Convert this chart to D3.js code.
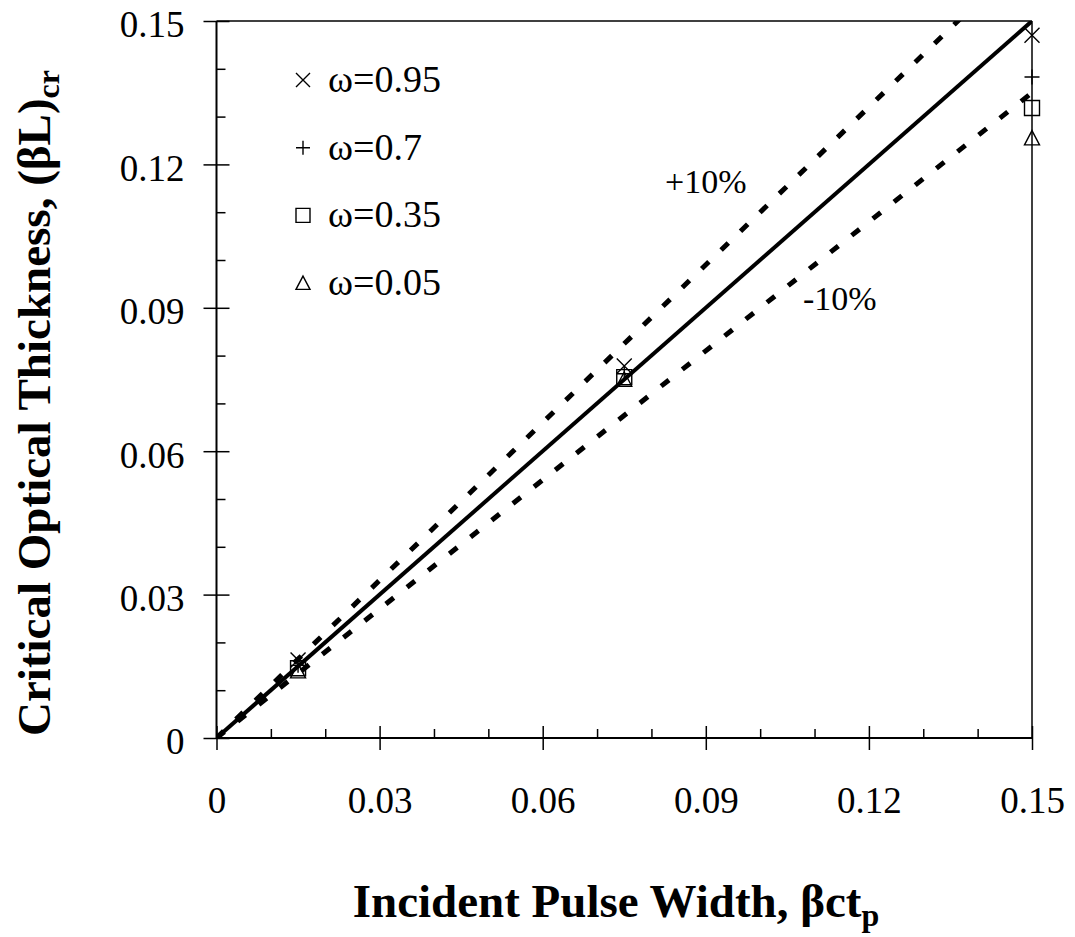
<!DOCTYPE html>
<html>
<head>
<meta charset="utf-8">
<script src="https://cdn.jsdelivr.net/npm/d3@7"></script>
<style>
  body { margin: 0; background: #fff; }
  text { font-family: "Liberation Serif", "Times New Roman", serif; fill: #000; }
</style>
</head>
<body>
<svg id="chart" width="1075" height="937"></svg>
<script>
// Data
const pulseWidth = [0.015, 0.075, 0.15];          // beta*c*tp
const omega095 = [0.0163, 0.0778, 0.147];
const omega07  = [0.0152, 0.0762, 0.1383];
const omega035 = [0.0146, 0.0755, 0.1318];
const omega005 = [0.0140, 0.0750, 0.1255];

const lineX     = [0, 0.15];
const exactY    = [0, 0.15];    // solid line
const plus10Y   = [0, 0.165];   // +10%
const minus10Y  = [0, 0.135];   // -10%

const majorTicks = [0, 0.03, 0.06, 0.09, 0.12, 0.15];
const minorTicks = [0.01, 0.02, 0.04, 0.05, 0.07, 0.08, 0.10, 0.11, 0.13, 0.14];

const seriesNames = ["\u03c9=0.95", "\u03c9=0.7", "\u03c9=0.35", "\u03c9=0.05"];
const seriesShapes = ["cross", "plus", "square", "triangle"];
const seriesValues = [omega095, omega07, omega035, omega005];

// Layout
const svg = d3.select('#chart');
const plotLeft = 216.5, plotRight = 1032, plotTop = 21, plotBottom = 738;
const serif = '"Liberation Serif", "Times New Roman", serif';

const x = d3.scaleLinear().domain([0, 0.15]).range([plotLeft, plotRight]);
const y = d3.scaleLinear().domain([0, 0.15]).range([plotBottom, plotTop]);

const fmt = d => d === 0 ? '0' : d.toFixed(2);

// Clip for the lines
svg.append('defs').append('clipPath').attr('id', 'plot-clip')
  .append('rect').attr('x', plotLeft).attr('y', plotTop)
  .attr('width', plotRight - plotLeft).attr('height', plotBottom - plotTop);

// Frame: top and right border
svg.append('line').attr('x1', plotLeft).attr('x2', plotRight).attr('y1', plotTop).attr('y2', plotTop)
  .attr('stroke', '#000').attr('stroke-width', 1.5);
svg.append('line').attr('x1', plotRight).attr('x2', plotRight).attr('y1', plotTop).attr('y2', plotBottom)
  .attr('stroke', '#000').attr('stroke-width', 1.5);

// X axis
const xAxisMajor = svg.append('g').attr('transform', `translate(0,${plotBottom})`)
  .call(d3.axisBottom(x).tickValues(majorTicks).tickSize(12).tickFormat(fmt));
xAxisMajor.selectAll('.tick line').attr('y1', -12).attr('stroke-width', 1.5);
xAxisMajor.select('.domain').attr('stroke-width', 2).attr('d', `M${plotLeft},0H${plotRight}`);
xAxisMajor.selectAll('.tick text')
  .attr('y', 75).attr('dy', 0)
  .style('font-size', '37px').style('font-family', serif);

svg.append('g').attr('transform', `translate(0,${plotBottom})`)
  .call(d3.axisBottom(x).tickValues(minorTicks).tickSize(-9).tickFormat(''))
  .call(g => g.select('.domain').remove())
  .selectAll('.tick line').attr('stroke-width', 1.5);

// Y axis
const yAxisMajor = svg.append('g').attr('transform', `translate(${plotLeft},0)`)
  .call(d3.axisLeft(y).tickValues(majorTicks).tickSize(13).tickFormat(fmt));
yAxisMajor.selectAll('.tick line').attr('x1', 13).attr('stroke-width', 1.5);
yAxisMajor.select('.domain').attr('stroke-width', 2).attr('d', `M0,${plotTop}V${plotBottom}`);
yAxisMajor.selectAll('.tick text')
  .attr('x', -32).attr('dy', '0.43em')
  .style('font-size', '37px').style('font-family', serif);

svg.append('g').attr('transform', `translate(${plotLeft},0)`)
  .call(d3.axisLeft(y).tickValues(minorTicks).tickSize(-9).tickFormat(''))
  .call(g => g.select('.domain').remove())
  .selectAll('.tick line').attr('stroke-width', 1.5);

// Lines
const line = d3.line().x(d => x(d[0])).y(d => y(d[1]));
const plot = svg.append('g').attr('clip-path', 'url(#plot-clip)');

plot.append('path').datum(d3.zip(lineX, plus10Y)).attr('d', line)
  .attr('fill', 'none').attr('stroke', '#000').attr('stroke-width', 5)
  .attr('stroke-dasharray', '10,17');
plot.append('path').datum(d3.zip(lineX, minus10Y)).attr('d', line)
  .attr('fill', 'none').attr('stroke', '#000').attr('stroke-width', 5)
  .attr('stroke-dasharray', '10,17');
plot.append('path').datum(d3.zip(lineX, exactY)).attr('d', line)
  .attr('fill', 'none').attr('stroke', '#000').attr('stroke-width', 4);

// Marker shapes
function marker(g, shape, cx, cy, s) {
  const h = s / 2;
  const p = g.append('path').attr('fill', 'none').attr('stroke', '#000').attr('stroke-width', 1.4);
  if (shape === 'cross') {
    p.attr('d', `M${cx - h},${cy - h}L${cx + h},${cy + h}M${cx - h},${cy + h}L${cx + h},${cy - h}`);
  } else if (shape === 'plus') {
    p.attr('d', `M${cx - h},${cy}H${cx + h}M${cx},${cy - h}V${cy + h}`);
  } else if (shape === 'square') {
    p.attr('d', `M${cx - h},${cy - h}H${cx + h}V${cy + h}H${cx - h}Z`);
  } else {
    p.attr('d', `M${cx},${cy - h}L${cx + h},${cy + h * 0.9}H${cx - h}Z`);
  }
}

const markers = svg.append('g');
seriesValues.forEach((vals, i) => {
  vals.forEach((v, j) => marker(markers, seriesShapes[i], x(pulseWidth[j]), y(v), 15));
});

// Legend
const legend = svg.append('g');
seriesNames.forEach((name, i) => {
  const cy = 80 + i * 67.7;
  marker(legend, seriesShapes[i], 303, cy, 14);
  legend.append('text').attr('x', 328).attr('y', cy + 12)
    .style('font-size', '38px').text(name);
});

// Annotations
svg.append('text').attr('x', 665).attr('y', 193).style('font-size', '34px').text('+10%');
svg.append('text').attr('x', 803).attr('y', 310).style('font-size', '34px').text('-10%');

// Axis titles
const xTitle = svg.append('text').attr('x', 616).attr('y', 917)
  .attr('text-anchor', 'middle').style('font-size', '47px').style('font-weight', 'bold');
xTitle.append('tspan').text('Incident Pulse Width, \u03b2ct');
xTitle.append('tspan').attr('dy', 9).style('font-size', '32px').text('p');

const yTitle = svg.append('text')
  .attr('transform', 'translate(50,403) rotate(-90)')
  .attr('text-anchor', 'middle').style('font-size', '47px').style('font-weight', 'bold');
yTitle.append('tspan').text('Critical Optical Thickness, (\u03b2L)');
yTitle.append('tspan').attr('dy', 9).style('font-size', '32px').text('cr');
</script>
</body>
</html>
